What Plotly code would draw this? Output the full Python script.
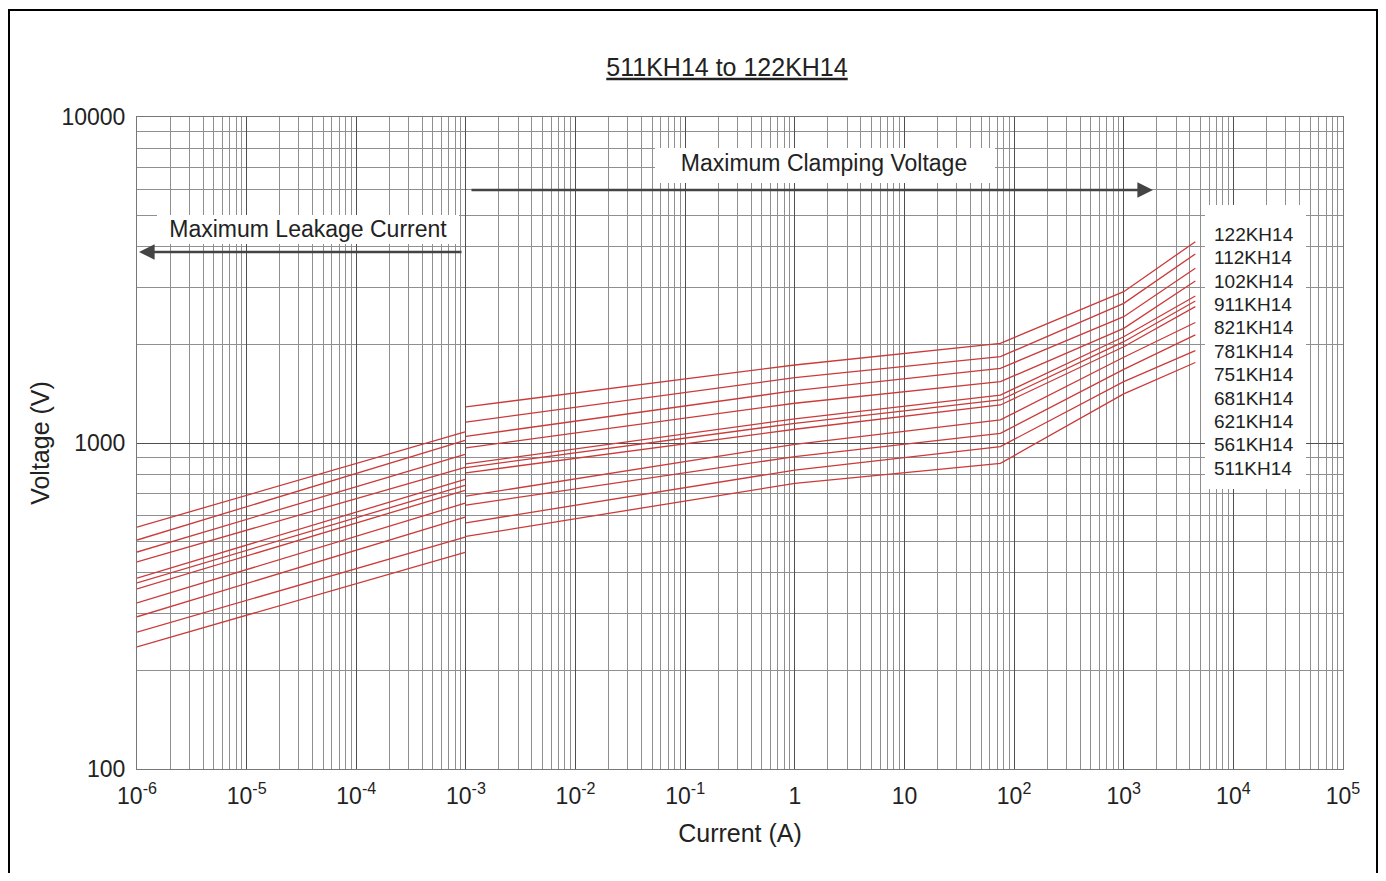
import plotly.graph_objects as go

# ---- data ----
series_names = ["511KH14", "561KH14", "621KH14", "681KH14", "751KH14", "781KH14",
                "821KH14", "911KH14", "102KH14", "112KH14", "122KH14"]

leak_current = [1e-6, 1e-3]
leak_v_start = [237, 263, 293, 323, 357, 372, 385, 432, 463, 504, 552]
leak_v_end = [463, 515, 593, 655, 717, 743, 775, 844, 925, 1021, 1083]

clamp_current = [1e-3, 1, 75, 1000, 4500]
clamp_v_1mA = [517, 569, 645, 687, 810, 841, 863, 966, 1048, 1159, 1291]
clamp_v_1A = [752, 826, 908, 991, 1102, 1149, 1185, 1324, 1447, 1586, 1735]
clamp_v_75A = [866, 975, 1071, 1177, 1308, 1355, 1403, 1542, 1695, 1840, 2022]
clamp_v_1000A = [1414, 1542, 1683, 1832, 1974, 2045, 2118, 2248, 2440, 2682, 2911]
clamp_v_4500A = [1766, 1921, 2145, 2342, 2620, 2727, 2825, 3140, 3434, 3801, 4145]

x_tick_vals = [1e-6, 1e-5, 1e-4, 1e-3, 1e-2, 1e-1, 1, 10, 1e2, 1e3, 1e4, 1e5]
x_tick_text = ["10<sup>-6</sup>", "10<sup>-5</sup>", "10<sup>-4</sup>", "10<sup>-3</sup>",
               "10<sup>-2</sup>", "10<sup>-1</sup>", "1", "10", "10<sup>2</sup>",
               "10<sup>3</sup>", "10<sup>4</sup>", "10<sup>5</sup>"]
y_tick_vals = [100, 1000, 10000]
y_tick_text = ["100", "1000", "10000"]

title_text = "511KH14 to 122KH14"
clamp_label = "Maximum Clamping Voltage"
leak_label = "Maximum Leakage Current"

# ---- layout geometry (page pixels of the reference; page has 8px body margin) ----
FONT = "Liberation Sans, Arial, sans-serif"
TXT = "#222222"
RED = "#cc3a3a"
OFF = 8
W, H = 1370, 865
PL, PR, PT, PB = 137, 1343, 117, 769          # plot area in page pixels
L, T = PL - OFF, PT - OFF
R, B = W - (PR - OFF), H - (PB - OFF)
pw, ph = PR - PL, PB - PT
X_LO, X_HI, Y_LO, Y_HI = -6, 5, 2, 4


def px(xp):
    return (xp - PL) / pw


def py(yp):
    return (PB - yp) / ph


def dx(xp):  # page pixel -> data x on log axis
    return 10 ** (X_LO + (xp - PL) / pw * (X_HI - X_LO))


def dy(yp):  # page pixel -> data y on log axis
    return 10 ** (Y_HI - (yp - PT) / ph * (Y_HI - Y_LO))


fig = go.Figure()

for i, name in enumerate(series_names):
    fig.add_trace(go.Scatter(
        x=leak_current, y=[leak_v_start[i], leak_v_end[i]],
        mode="lines", line=dict(color=RED, width=1.3),
        name=name, showlegend=False, hoverinfo="x+y+name"))
    fig.add_trace(go.Scatter(
        x=clamp_current,
        y=[clamp_v_1mA[i], clamp_v_1A[i], clamp_v_75A[i], clamp_v_1000A[i], clamp_v_4500A[i]],
        mode="lines", line=dict(color=RED, width=1.3),
        name=name, showlegend=False, hoverinfo="x+y+name"))


# white label backgrounds (drawn above the grid, below the text)
def white_box(x0, x1, y0, y1):
    fig.add_trace(go.Scatter(
        x=[dx(x0), dx(x1), dx(x1), dx(x0), dx(x0)],
        y=[dy(y0), dy(y0), dy(y1), dy(y1), dy(y0)],
        mode="none", fill="toself", fillcolor="white",
        showlegend=False, hoverinfo="skip"))


white_box(655, 995, 148, 183)
white_box(157, 459, 215, 244)
white_box(1205, 1306, 205, 489)

# region labels
fig.add_trace(go.Scatter(
    x=[dx(824), dx(308)], y=[dy(165), dy(231)],
    mode="text", text=[clamp_label, leak_label], textposition="middle center",
    textfont=dict(family=FONT, size=23, color=TXT),
    showlegend=False, hoverinfo="skip", cliponaxis=False))

# series labels (top to bottom)
label_y0 = 236
label_dy = 23.4
lab_names = list(reversed(series_names))
fig.add_trace(go.Scatter(
    x=[dx(1214)] * len(lab_names),
    y=[dy(label_y0 + k * label_dy) for k in range(len(lab_names))],
    mode="text", text=lab_names, textposition="middle right",
    textfont=dict(family=FONT, size=19, color=TXT),
    showlegend=False, hoverinfo="skip", cliponaxis=False))

x_minor = [m * 10 ** e for e in range(X_LO, X_HI) for m in range(2, 10)]
y_minor = [m * 10 ** e for e in range(Y_LO, Y_HI) for m in range(2, 10)]

axis_common = dict(
    type="log", showgrid=True, gridcolor="#4f4f4f", gridwidth=1.2,
    showline=True, linecolor="#777", linewidth=1, mirror=True,
    ticks="", zeroline=False,
    tickfont=dict(family=FONT, size=23, color=TXT),
)

fig.update_xaxes(
    **axis_common, range=[X_LO, X_HI], tickmode="array",
    tickvals=x_tick_vals, ticktext=x_tick_text, ticklabelstandoff=6,
    minor=dict(tickmode="array", tickvals=x_minor, showgrid=True,
               gridcolor="#8f8f8f", gridwidth=1, ticks=""),
    title=dict(text="Current (A)", font=dict(family=FONT, size=25, color=TXT), standoff=16),
)
fig.update_yaxes(
    **axis_common, range=[Y_LO, Y_HI], tickmode="array",
    tickvals=y_tick_vals, ticktext=y_tick_text, ticklabelstandoff=6,
    minor=dict(tickmode="array", tickvals=y_minor, showgrid=True,
               gridcolor="#8f8f8f", gridwidth=1, ticks=""),
    title=dict(text="Voltage (V)", font=dict(family=FONT, size=25, color=TXT), standoff=4),
)

shapes = [dict(type="rect", xref="paper", yref="paper",
               x0=px(9), x1=px(1377), y0=py(900), y1=py(10),
               line=dict(color="black", width=2), fillcolor="rgba(0,0,0,0)", layer="above")]

annotations = []
# arrows
annotations.append(dict(text="", xref="paper", yref="paper", x=px(1153), y=py(190),
                        ax=470 - 1153, ay=0, axref="pixel", ayref="pixel",
                        showarrow=True, arrowhead=2, arrowsize=1.2, arrowwidth=2.6,
                        arrowcolor="#444"))
annotations.append(dict(text="", xref="paper", yref="paper", x=px(139), y=py(252),
                        ax=463 - 139, ay=0, axref="pixel", ayref="pixel",
                        showarrow=True, arrowhead=2, arrowsize=1.2, arrowwidth=2.6,
                        arrowcolor="#444"))

fig.update_layout(
    width=W, height=H,
    margin=dict(l=L, r=R, t=T, b=B, autoexpand=False),
    paper_bgcolor="white", plot_bgcolor="white",
    title=dict(text="<u>" + title_text + "</u>", xref="paper", x=px(727),
               yref="container", y=1 - (67 - OFF) / H, xanchor="center", yanchor="middle",
               font=dict(family=FONT, size=25, color=TXT)),
    shapes=shapes, annotations=annotations,
    showlegend=False,
)

fig.write_html("out.html")
